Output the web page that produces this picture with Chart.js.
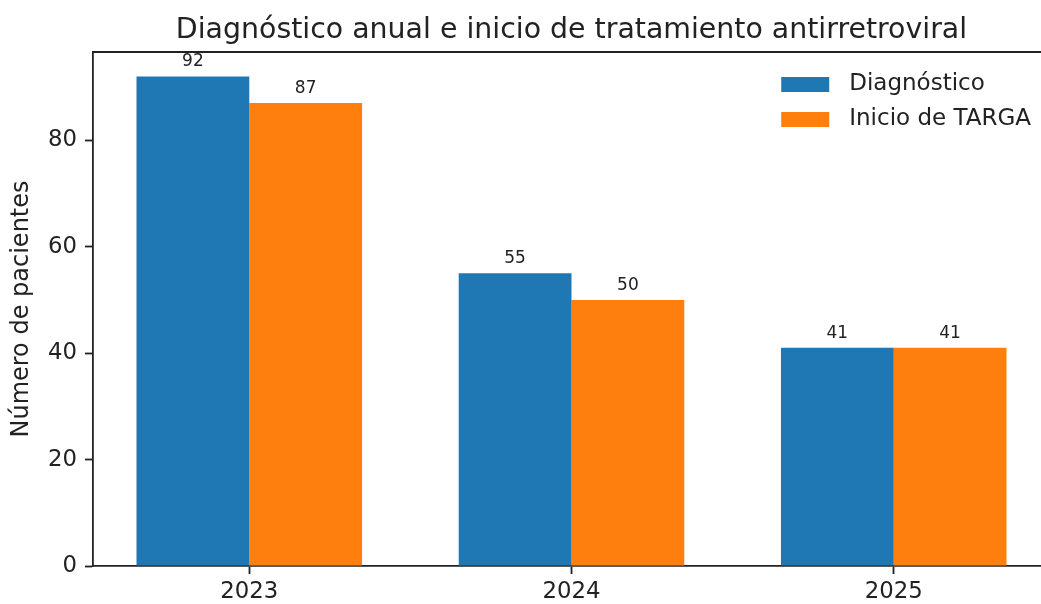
<!DOCTYPE html>
<html>
<head>
<meta charset="utf-8">
<script src="https://cdn.jsdelivr.net/npm/chart.js@4.4.1/dist/chart.umd.min.js"></script>
<style>
body{margin:0;overflow:hidden;background:#fff;}
#wrap{width:1041px;height:604px;overflow:hidden;}
</style>
</head>
<body>
<div id="wrap"><canvas id="grafico" width="1060" height="604"></canvas></div>
<script>
const anos = ["2023", "2024", "2025"];
const diagnostico = [92, 55, 41];
const inicioTarga = [87, 50, 41];
const nomesSeries = ["Diagnóstico", "Inicio de TARGA"];
const titulo = "Diagnóstico anual e inicio de tratamiento antirretroviral";
const tituloY = "Número de pacientes";

const fonte = "'DejaVu Sans'";
const corTexto = "#222";

// largura de cada barra em unidades do eixo (como no matplotlib)
const largura = 0.35;
const extensao = (anos.length - 1) + 2 * largura;
const xMin = -largura - 0.05 * extensao;
const xMax = (anos.length - 1) + largura + 0.05 * extensao;
const yMax = Math.max(...diagnostico, ...inicioTarga) * 1.05;

const rotulos = {
    id: "rotulos",
    afterDatasetsDraw(chart){
        const ctx = chart.ctx;
        const area = chart.chartArea;
        ctx.save();

        // valores sobre as barras
        ctx.font = "17px " + fonte;
        ctx.fillStyle = corTexto;
        ctx.textAlign = "center";
        ctx.textBaseline = "alphabetic";
        chart.data.datasets.forEach((ds, i)=>{
            chart.getDatasetMeta(i).data.forEach((bar, j)=>{
                ctx.fillText(ds.data[j].y, bar.x, bar.y - 10);
            });
        });

        // linha superior do quadro
        ctx.strokeStyle = corTexto;
        ctx.lineWidth = 1.8;
        ctx.beginPath();
        ctx.moveTo(area.left, area.top);
        ctx.lineTo(area.right, area.top);
        ctx.stroke();

        // titulo centrado no eixo
        ctx.font = "28.4px " + fonte;
        ctx.fillText(titulo, (area.left + area.right) / 2, area.top - 14);

        // legenda
        ctx.font = "23px " + fonte;
        const larg = Math.max(...chart.data.datasets.map(d=>ctx.measureText(d.label).width));
        const xTexto = area.right - 19 - larg;
        ctx.textAlign = "left";
        ctx.textBaseline = "middle";
        chart.data.datasets.forEach((ds, i)=>{
            const yc = area.top + 32.5 + i * 35;
            ctx.fillStyle = ds.backgroundColor;
            ctx.fillRect(xTexto - 68, yc - 7.5, 48, 15);
            ctx.fillStyle = corTexto;
            ctx.fillText(ds.label, xTexto, yc);
        });

        ctx.restore();
    }
};

new Chart(document.getElementById("grafico"), {
    type: "bar",
    data: {
        datasets: [
            {
                label: nomesSeries[0],
                data: diagnostico.map((v, i)=>({x: i, y: v})),
                backgroundColor: "#1f77b4",
                borderWidth: 0
            },
            {
                label: nomesSeries[1],
                data: inicioTarga.map((v, i)=>({x: i, y: v})),
                backgroundColor: "#ff7f0e",
                borderWidth: 0
            }
        ]
    },
    options: {
        responsive: false,
        animation: false,
        layout: {padding: {top: 52, right: 10, left: 0, bottom: 0}},
        datasets: {bar: {categoryPercentage: 2 * largura, barPercentage: 1}},
        plugins: {
            legend: {display: false},
            title: {display: false},
            tooltip: {enabled: false}
        },
        scales: {
            x: {
                type: "linear",
                offset: false,
                min: xMin,
                max: xMax,
                afterFit: s=>{ s.height = 38; },
                ticks: {
                    stepSize: 1,
                    includeBounds: false,
                    autoSkip: false,
                    maxRotation: 0,
                    padding: 4,
                    color: corTexto,
                    font: {family: "DejaVu Sans", size: 22.8},
                    callback: v=>anos[v] ?? ""
                },
                grid: {
                    drawOnChartArea: false,
                    tickLength: 8,
                    tickColor: corTexto,
                    tickWidth: 1.8,
                    offset: false
                },
                border: {color: corTexto, width: 1.8}
            },
            y: {
                min: 0,
                max: yMax,
                afterFit: s=>{ s.width = 93; },
                ticks: {
                    stepSize: 20,
                    includeBounds: false,
                    padding: 8,
                    color: corTexto,
                    font: {family: "DejaVu Sans", size: 22.8}
                },
                grid: {
                    drawOnChartArea: false,
                    tickLength: 8,
                    tickColor: corTexto,
                    tickWidth: 1.8
                },
                border: {color: corTexto, width: 1.8},
                title: {
                    display: true,
                    text: tituloY,
                    color: corTexto,
                    padding: {top: 7, bottom: 0},
                    font: {family: "DejaVu Sans", size: 24}
                }
            }
        }
    },
    plugins: [rotulos]
});
</script>
</body>
</html>
